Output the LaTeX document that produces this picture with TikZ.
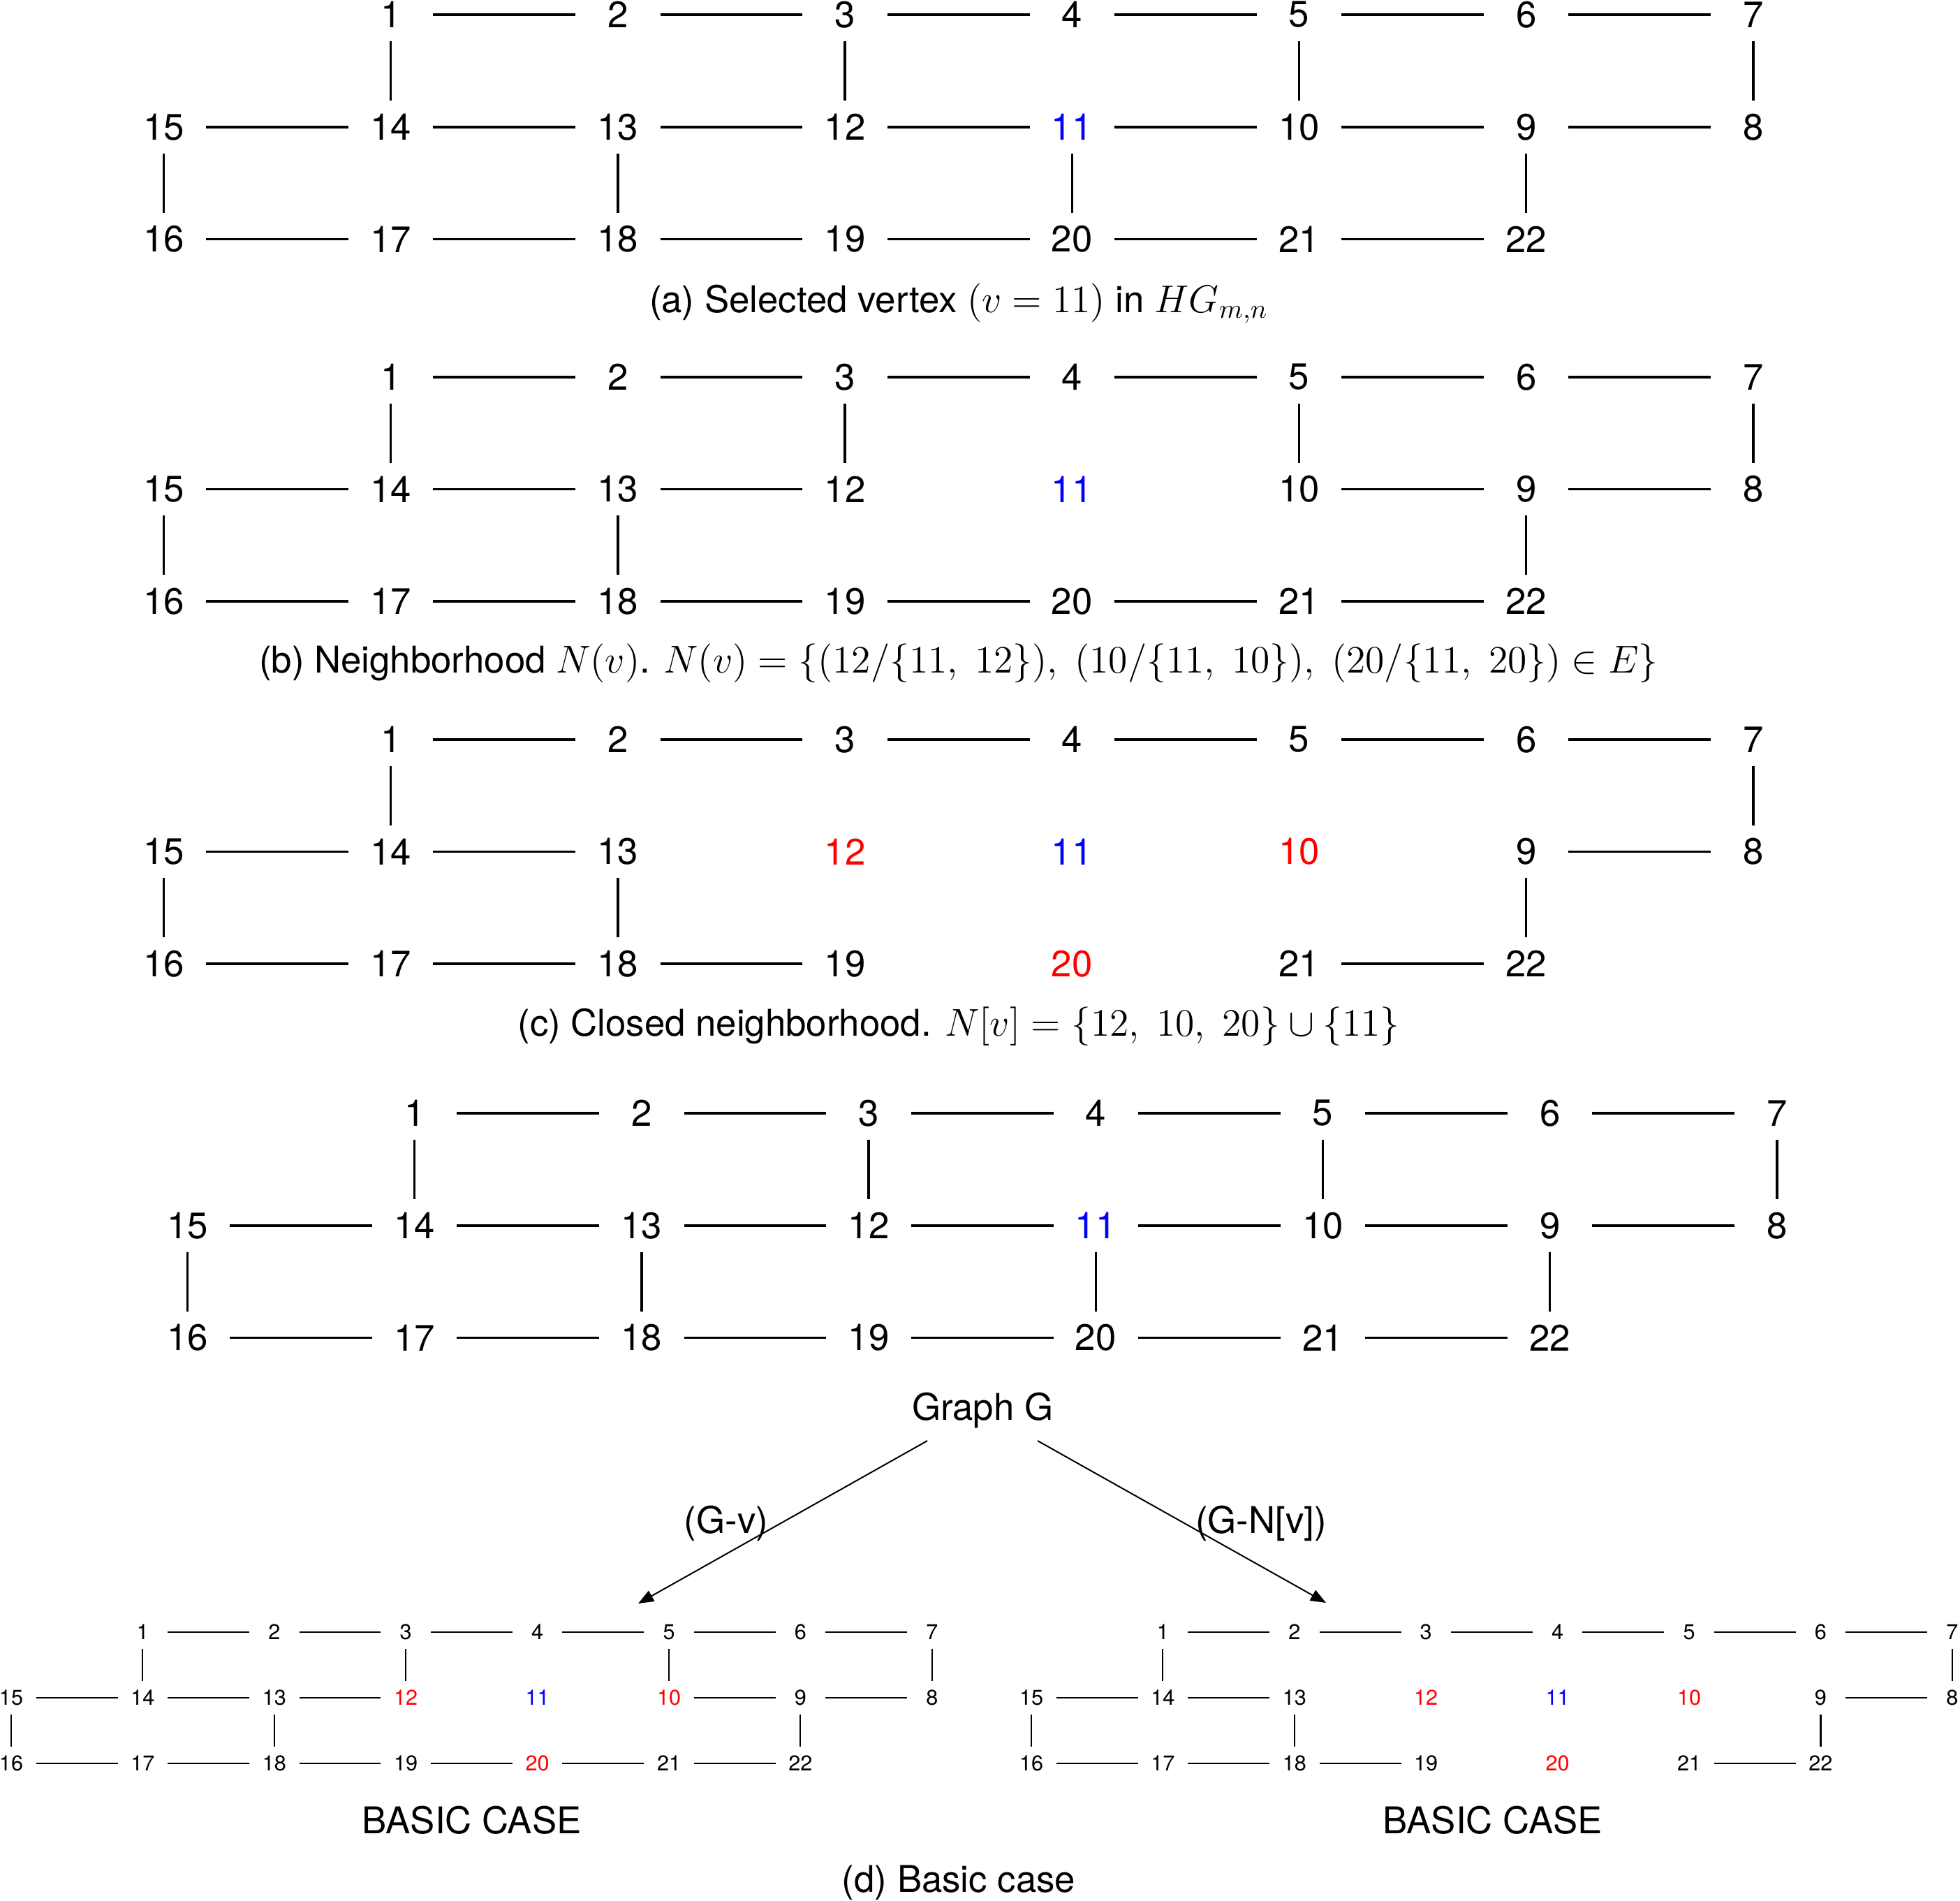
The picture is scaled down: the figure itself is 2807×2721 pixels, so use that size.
\RequirePackage{fix-cm}
\documentclass[tikz,border=0pt]{standalone}
\usepackage[no-math]{fontspec}
\setmainfont{TeX Gyre Heros}
\usetikzlibrary{arrows.meta}
\newcommand\vc[2]{\expandafter\def\csname vc#1\endcsname{#2}}
\newcommand\vcolor[1]{\ifcsname vc#1\endcsname\color{\csname vc#1\endcsname}\fi}
\newcommand\mth[1]{{\fontsize{15.8}{18}\selectfont$#1$}}
\newcommand\placegraph[6]{%
  \foreach \k in {1,...,7}
    \node[#6] (#1\k) at ({#2+\k*#4},{#3}) {\vcolor{\k}\k};
  \foreach \k in {8,...,15}
    \node[#6] (#1\k) at ({#2+(15-\k)*#4},{#3+#5}) {\vcolor{\k}\k};
  \foreach \k in {16,...,22}
    \node[#6] (#1\k) at ({#2+(\k-16)*#4},{#3+2*#5}) {\vcolor{\k}\k};
}
\newcommand\joinedges[3]{\foreach \a/\b in #2 \draw[#3] (#1\a) -- (#1\b);}
\def\EdgesA{1/2,2/3,3/4,4/5,5/6,6/7,15/14,14/13,13/12,12/11,11/10,10/9,9/8,16/17,17/18,18/19,19/20,20/21,21/22,1/14,3/12,5/10,7/8,15/16,13/18,11/20,9/22}
\def\EdgesB{1/2,2/3,3/4,4/5,5/6,6/7,15/14,14/13,13/12,10/9,9/8,16/17,17/18,18/19,19/20,20/21,21/22,1/14,3/12,5/10,7/8,15/16,13/18,9/22}
\def\EdgesC{1/2,2/3,3/4,4/5,5/6,6/7,15/14,14/13,9/8,16/17,17/18,18/19,21/22,1/14,7/8,15/16,13/18,9/22}
\tikzset{
  vtx/.style={inner sep=0pt, minimum width=1.2cm, minimum height=0.74cm, font=\fontsize{15}{18}\selectfont},
  svtx/.style={inner sep=0pt, minimum width=0.70cm, minimum height=0.46cm, font=\fontsize{8.7}{10}\selectfont},
  edge/.style={line width=1pt},
  sedge/.style={line width=0.6pt},
  captxt/.style={inner sep=0pt, anchor=base, font=\fontsize{15}{18}\selectfont},
  arr/.style={line width=0.57pt, -{Triangle[length=0.22cm,width=0.17cm]}}
}
\begin{document}
\begin{tikzpicture}[x=0.01cm,y=-0.01cm]
\useasboundingbox (0,0) rectangle (2807,2721);
% (a)
\begin{scope}
\vc{11}{blue}
\placegraph{a}{234.5}{21}{325.2}{160.8}{vtx}
\joinedges{a}{\EdgesA}{edge}
\end{scope}
\node[captxt] (capa) at (1373,447) {(a) Selected vertex \mth{(v=11)} in \mth{HG_{m,n}}};
% (b)
\begin{scope}
\vc{11}{blue}
\placegraph{b}{234.5}{540}{325.2}{160.5}{vtx}
\joinedges{b}{\EdgesB}{edge}
\end{scope}
\node[captxt] (capb) at (1373,963) {(b) Neighborhood \mth{N(v)}. \mth{N(v)=\{(12/\{11,\ 12\}),\ (10/\{11,\ 10\}),\ (20/\{11,\ 20\})\in E\}}};
% (c)
\begin{scope}
\vc{11}{blue}\vc{12}{red}\vc{10}{red}\vc{20}{red}
\placegraph{c}{234.5}{1059}{325.2}{160.5}{vtx}
\joinedges{c}{\EdgesC}{edge}
\end{scope}
\node[captxt] (capc) at (1373,1483) {(c) Closed neighborhood. \mth{N[v]=\{12,\ 10,\ 20\}\cup\{11\}}};
% (d) main graph
\begin{scope}
\vc{11}{blue}
\placegraph{d}{268.5}{1594}{325.2}{160.8}{vtx}
\joinedges{d}{\EdgesA}{edge}
\end{scope}
\node[captxt] (G) at (1407,2033) {Graph G};
\coordinate (gL) at (1328,2063);
\coordinate (gR) at (1486,2063);
\coordinate (tL) at (914,2296);
\coordinate (tR) at (1899,2295);
\draw[arr] (gL) -- (tL);
\draw[arr] (gR) -- (tR);
\node[captxt] (lv) at (1040,2195) {(G-v)};
\node[captxt] (lnv) at (1806,2195) {(G-N[v])};
% small left
\begin{scope}
\vc{11}{blue}\vc{12}{red}\vc{10}{red}\vc{20}{red}
\placegraph{l}{16}{2337}{188.4}{94}{svtx}
\joinedges{l}{\EdgesB}{sedge}
\end{scope}
% small right
\begin{scope}
\vc{11}{blue}\vc{12}{red}\vc{10}{red}\vc{20}{red}
\placegraph{r}{1477}{2337}{188.4}{94}{svtx}
\joinedges{r}{\EdgesC}{sedge}
\end{scope}
\node[captxt] (bl) at (675.5,2625) {BASIC CASE};
\node[captxt] (br) at (2137.5,2625) {BASIC CASE};
\node[captxt] (capd) at (1373,2709) {(d) Basic case};
\end{tikzpicture}
\end{document}
